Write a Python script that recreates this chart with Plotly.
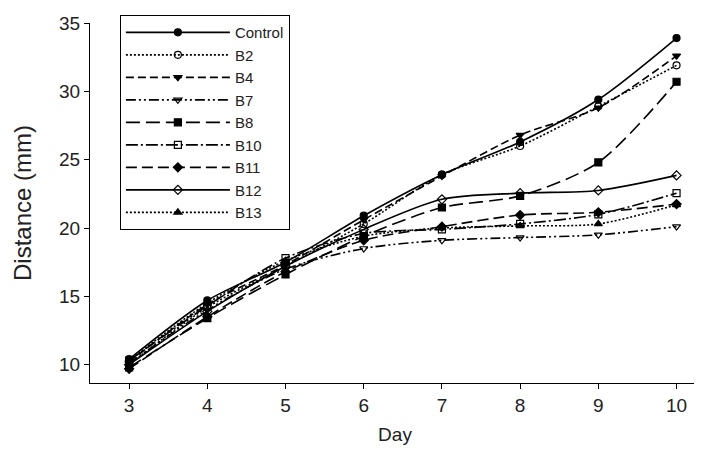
import plotly.graph_objects as go

days = [3, 4, 5, 6, 7, 8, 9, 10]

control = [10.4, 14.7, 17.5, 20.9, 23.9, 26.3, 29.4, 33.9]
b2 = [10.0, 14.2, 17.2, 20.3, 23.9, 26.0, 28.9, 31.9]
b4 = [10.2, 14.4, 17.3, 20.6, 23.8, 26.8, 28.8, 32.6]
b7 = [10.1, 14.0, 17.0, 18.5, 19.1, 19.3, 19.5, 20.1]
b8 = [9.8, 13.4, 16.6, 19.4, 21.5, 22.35, 24.8, 30.7]
b10 = [10.3, 14.3, 17.8, 19.6, 19.9, 20.3, 21.0, 22.55]
b11 = [9.7, 13.5, 16.8, 19.1, 20.1, 20.95, 21.15, 21.75]
b12 = [10.0, 13.9, 17.2, 19.9, 22.1, 22.55, 22.75, 23.85]
b13 = [10.3, 14.5, 17.6, 19.4, 20.0, 20.15, 20.3, 21.7]

series = [
    ("Control", control, "solid", "circle"),
    ("B2", b2, "2px,2px", "circle-open"),
    ("B4", b4, "8px,4px", "triangle-down"),
    ("B7", b7, "10px,3px,2px,3px,2px,3px", "triangle-down-open"),
    ("B8", b8, "14px,6px", "square"),
    ("B10", b10, "12px,3px,2px,3px", "square-open"),
    ("B11", b11, "11px,5px", "diamond"),
    ("B12", b12, "solid", "diamond-open"),
    ("B13", b13, "2px,2px", "triangle-up"),
]

fig = go.Figure()
for name, vals, dash, sym in series:
    fig.add_trace(go.Scatter(
        x=days, y=vals, name=name, mode="lines+markers",
        line=dict(color="black", width=1.6, dash=dash, shape="spline", smoothing=0.8),
        marker=dict(symbol=sym, size=7, color="black",
                    line=dict(color="black", width=1.2)),
    ))

fig.update_layout(
    width=694, height=445,
    margin=dict(l=82, r=2, t=15, b=70, autoexpand=False),
    plot_bgcolor="white", paper_bgcolor="white",
    font=dict(family="Liberation Sans, Arial, sans-serif", size=19, color="#222"),
    showlegend=True,
    legend=dict(x=0.049, y=1.022, xanchor="left", yanchor="top",
                bordercolor="black", borderwidth=1, bgcolor="white",
                font=dict(size=15), tracegroupgap=0, itemwidth=104),
    xaxis=dict(range=[2.5, 10.3], tickvals=days, showline=True, linecolor="black",
               linewidth=1, ticks="outside", ticklen=5, tickcolor="black",
               showgrid=False, zeroline=False, automargin=False,
               title=dict(text="Day", font=dict(size=19), standoff=12)),
    yaxis=dict(range=[8.66, 35], tickvals=[10, 15, 20, 25, 30, 35], showline=True,
               linecolor="black", linewidth=1, ticks="outside", ticklen=5,
               tickcolor="black", showgrid=False, zeroline=False, automargin=False,
               title=dict(text="Distance (mm)", font=dict(size=24), standoff=20)),
)

fig.write_html("out.html")
